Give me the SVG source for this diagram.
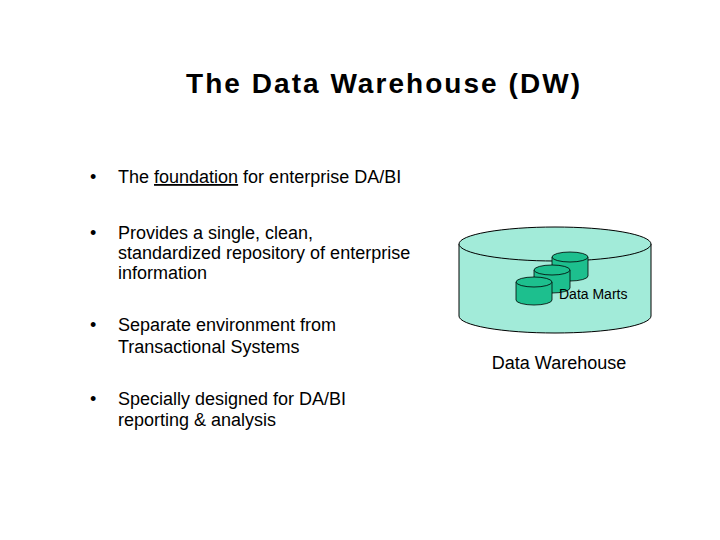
<svg xmlns="http://www.w3.org/2000/svg" width="720" height="540" viewBox="0 0 720 540">
<style>
text{font-family:"Liberation Sans",Arial,sans-serif;fill:#000}
.b{font-size:18px}
.big{fill:#a2ebd9;stroke:#000;stroke-width:1}
.dm{fill:#1dbf8e;stroke:#000;stroke-width:0.8}
</style>
<rect width="720" height="540" fill="#fff"/>
<text x="186" y="93" font-size="28" font-weight="bold" textLength="394" lengthAdjust="spacing">The Data Warehouse (DW)</text>
<g id="bullets" class="b">
<text x="90" y="183">•</text><text x="118" y="183">The <tspan text-decoration="underline">foundation</tspan> for enterprise DA/BI</text>
<text x="90" y="239">•</text><text x="118" y="239">Provides a single, clean,</text>
<text x="118" y="259">standardized repository of enterprise</text>
<text x="118" y="279">information</text>
<text x="90" y="331">•</text><text x="118" y="331">Separate environment from</text>
<text x="118" y="353">Transactional Systems</text>
<text x="90" y="405">•</text><text x="118" y="405">Specially designed for DA/BI</text>
<text x="118" y="426">reporting &amp; analysis</text>
</g>
<g id="warehouse">
<path class="big" d="M459,244 L459,316 A96,17 0 0 0 651,316 L651,244 Z"/>
<ellipse class="big" cx="555" cy="244" rx="96" ry="17"/>
<text x="559" y="369" class="b" text-anchor="middle">Data Warehouse</text>
</g>
<g id="marts">
<path class="dm" d="M552,257 L552,276 A18,5 0 0 0 588,276 L588,257 Z"/><ellipse class="dm" cx="570" cy="257" rx="18" ry="5"/>
<path class="dm" d="M534,270 L534,288 A18,5 0 0 0 570,288 L570,270 Z"/><ellipse class="dm" cx="552" cy="270" rx="18" ry="5"/>
<path class="dm" d="M516,282 L516,300 A18,5 0 0 0 552,300 L552,282 Z"/><ellipse class="dm" cx="534" cy="282" rx="18" ry="5"/>
<text x="559" y="299" font-size="14">Data Marts</text>
</g>
</svg>
